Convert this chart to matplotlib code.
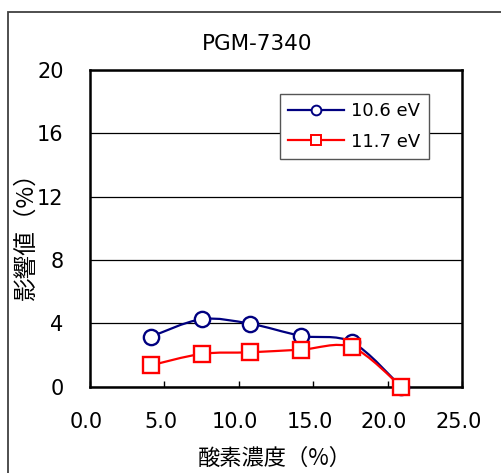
import matplotlib
matplotlib.use("Agg")
import matplotlib.pyplot as plt
from matplotlib.path import Path
from matplotlib.patches import PathPatch, Rectangle
from matplotlib.lines import Line2D
from matplotlib.transforms import ScaledTranslation

plt.rcParams['font.family'] = ['DejaVu Sans', 'Noto Sans CJK JP']

# ---- data ----
title = "PGM-7340"
x_label = "酸素濃度（%）"
y_label = "影響値（%）"
oxygen = [4.1, 7.5, 10.75, 14.2, 17.6, 20.9]
series_names = ["10.6 eV", "11.7 eV"]
val_106 = [3.15, 4.25, 3.97, 3.2, 2.8, 0.0]
val_117 = [1.34, 2.06, 2.16, 2.33, 2.48, 0.0]
x_ticks = [0, 5, 10, 15, 20, 25]
y_ticks = [0, 4, 8, 12, 16, 20]

W, H = 501, 473
fig = plt.figure(figsize=(W / 100, H / 100), dpi=100)
fig.patch.set_facecolor('white')

# outer chart frame (only left and top visible)
fig.patches.append(Rectangle((8 / W, -0.5), 2.0, 0.5 + 1 - 12 / H, transform=fig.transFigure,
                             fill=False, edgecolor='#404040', lw=1.3, clip_on=False))

ax = fig.add_axes([90 / W, 1 - 386.5 / H, (462 - 90) / W, (386.5 - 70) / H])
ax.set_xlim(0, 25)
ax.set_ylim(0, 20)
ax.set_xticks(x_ticks)
ax.set_xticklabels([f"{v:.1f}" for v in x_ticks])
ax.set_yticks(y_ticks)
ax.set_yticklabels([str(v) for v in y_ticks])
ax.tick_params(axis='x', direction='in', length=4, width=1, pad=18, labelsize=15, colors='black')
ax.tick_params(axis='y', length=0, pad=19, labelsize=15)
shift = ScaledTranslation(-3.5 / 100, 0, fig.dpi_scale_trans)
for lab in ax.get_xticklabels():
    lab.set_transform(lab.get_transform() + shift)
ax.yaxis.grid(True, color='black', lw=0.9)
ax.set_axisbelow(True)
for s in ax.spines.values():
    s.set_linewidth(1.8)
    s.set_color('black')


def smooth_path(xs, ys):
    pts = list(zip(xs, ys))
    n = len(pts)
    verts = [pts[0]]
    codes = [Path.MOVETO]
    for i in range(n - 1):
        p0 = pts[i - 1] if i > 0 else pts[i]
        p1 = pts[i]
        p2 = pts[i + 1]
        p3 = pts[i + 2] if i + 2 < n else pts[i + 1]
        c1 = (p1[0] + (p2[0] - p0[0]) / 6, p1[1] + (p2[1] - p0[1]) / 6)
        c2 = (p2[0] - (p3[0] - p1[0]) / 6, p2[1] - (p3[1] - p1[1]) / 6)
        verts += [c1, c2, p2]
        codes += [Path.CURVE4] * 3
    return Path(verts, codes)


styles = [dict(color='#000080', marker='o'), dict(color='#FF0000', marker='s')]
handles = []
for k, (vals, st) in enumerate(zip([val_106, val_117], styles)):
    z = 3 + 2 * k
    ax.add_patch(PathPatch(smooth_path(oxygen, vals), fill=False, edgecolor=st['color'],
                           lw=1.6, zorder=z, clip_on=False))
    ax.plot(oxygen, vals, linestyle='none', marker=st['marker'], ms=11, mfc='white',
            mec=st['color'], mew=1.7, zorder=z + 1, clip_on=False)
    handles.append(Line2D([], [], color=st['color'], lw=1.6, marker=st['marker'], ms=7,
                          mfc='white', mec=st['color'], mew=1.4))

leg = ax.legend(handles, series_names, loc='upper left', bbox_to_anchor=(280 / W, 1 - 94 / H),
                bbox_transform=fig.transFigure, borderaxespad=0, fontsize=13,
                handlelength=3.1, handletextpad=0.4, labelspacing=0.7, borderpad=0.45,
                fancybox=False, framealpha=1, edgecolor='#555555')
leg.get_frame().set_linewidth(1.0)

fig.text(257 / W, 1 - 50 / H, title, ha='center', va='baseline', fontsize=15.5)
fig.text(275 / W, 1 - 458 / H, x_label, ha='center', va='center', fontsize=16,
         family=['Noto Sans CJK JP', 'DejaVu Sans'])
fig.text(26 / W, 1 - 230 / H, y_label, ha='center', va='center', rotation=90, fontsize=17,
         family=['Noto Sans CJK JP', 'DejaVu Sans'])

fig.savefig("out.png", dpi=100)
